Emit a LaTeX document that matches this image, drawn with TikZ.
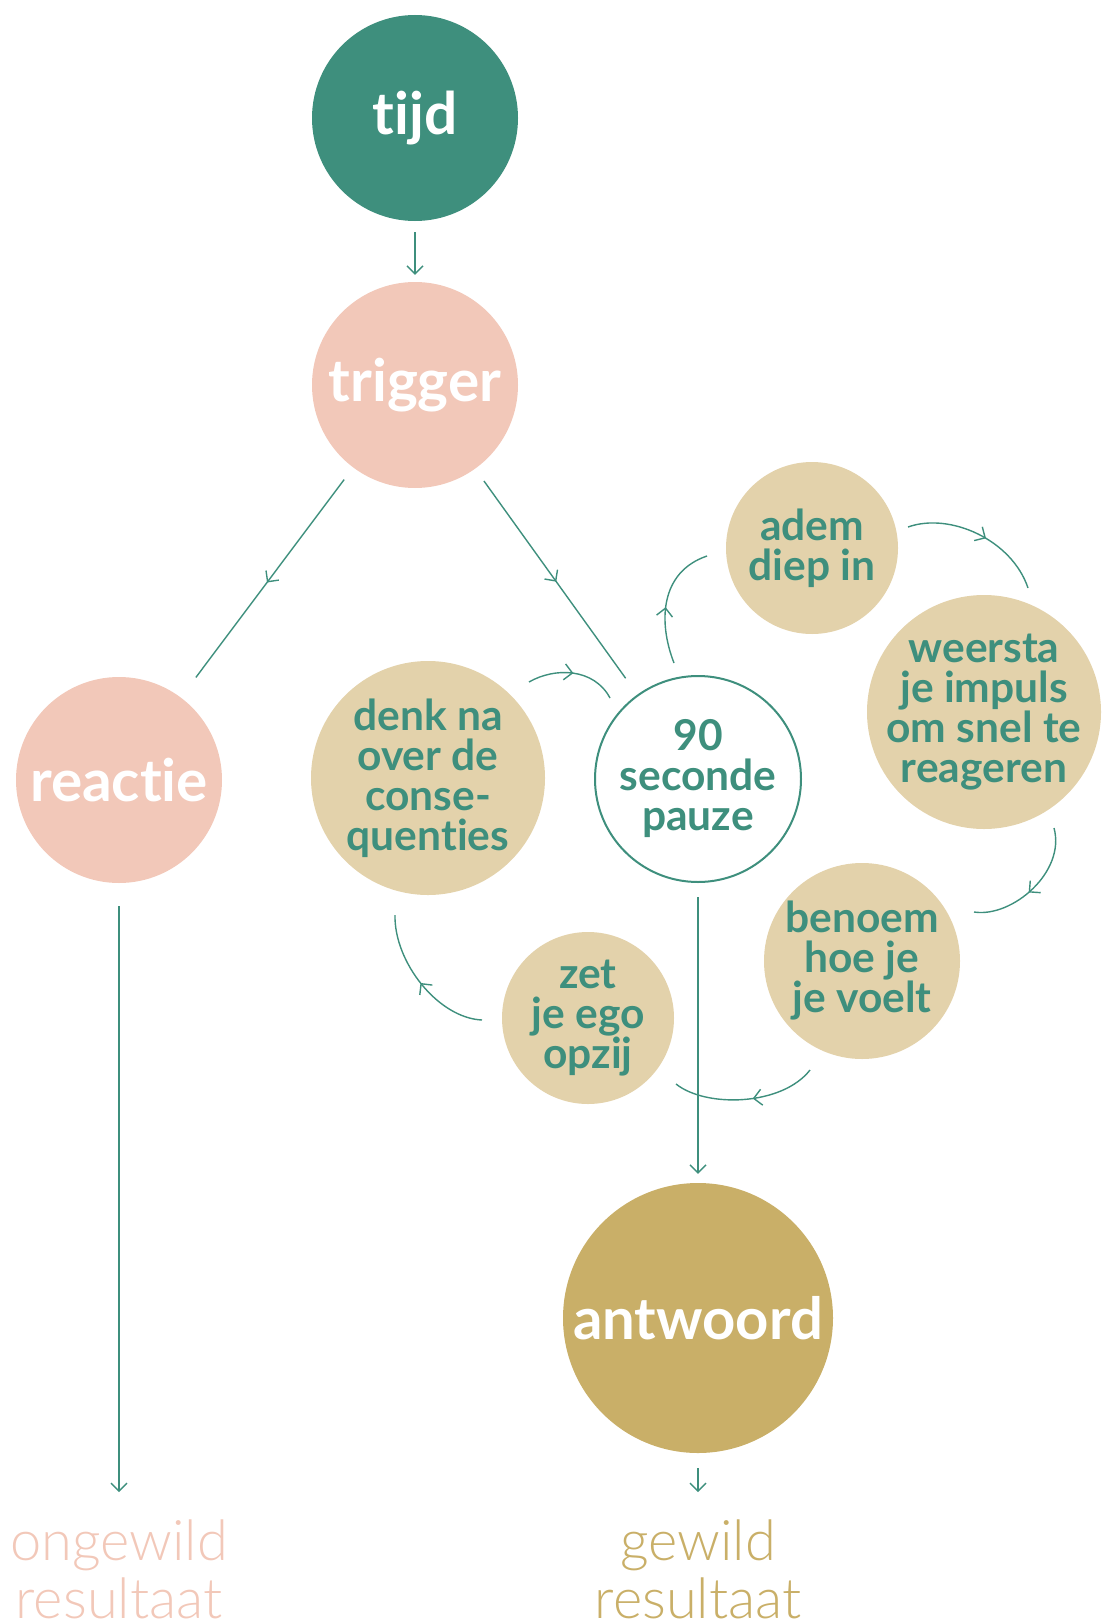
\documentclass[tikz,border=0pt]{standalone}
\usepackage{fontspec}
\setmainfont{Lato}[Ligatures=NoCommon]
\newfontfamily\lightf{Lato Light}[Ligatures=NoCommon]
\usetikzlibrary{arrows.meta,decorations.markings}
\definecolor{tealc}{HTML}{3E8F7D}
\definecolor{pinkc}{HTML}{F2C8B9}
\definecolor{beigec}{HTML}{E3D2AB}
\definecolor{goldc}{HTML}{C9AF68}
\begin{document}
\begin{tikzpicture}[x=1pt,y=-1pt,
  tipv/.tip={Straight Barb[length=8pt,width=16pt,line width=1.4pt]},
  conn/.style={draw=tealc,line width=1.4pt},
  endarrow/.style={conn,-tipv},
  midarrow/.style={conn,postaction={decorate},
    decoration={markings,mark=at position #1 with {\arrow{tipv}}}},
  midarrow/.default=0.5,
  big/.style={circle,inner sep=0pt,minimum size=206pt,text=white,
    font=\fontsize{58.5}{60}\selectfont\bfseries},
  smallcirc/.style={circle,inner sep=0pt,fill=beigec},
  smalltext/.style={inner sep=0pt,text=tealc,align=center,
    font=\fontsize{42.5}{40}\selectfont\bfseries},
  result/.style={align=center,font=\lightf\fontsize{56}{58}\selectfont}]
\useasboundingbox (0,0) rectangle (1107,1624);

\node[big,fill=tealc] (tijd) at (415,118) {tijd};
\node[big,fill=pinkc] (trigger) at (415,385) {trigger};
\node[big,fill=pinkc] (reactie) at (119,780) {reactie};
\node[circle,inner sep=0pt,minimum size=206pt,draw=tealc,line width=2pt,fill=white] (pauze) at (698,779) {};
\node[smalltext] (pauzetext) at (pauze) {90\\seconde\\pauze};
\node[smallcirc,minimum size=234pt] (denk) at (428,778) {};
\node[smalltext] (denktext) at (denk) {denk na\\over de\\conse-\\quenties};
\node[smallcirc,minimum size=172pt] (adem) at (812,548) {};
\node[smalltext] (ademtext) at (adem) {adem\\diep in};
\node[smallcirc,minimum size=234pt] (weersta) at (984,712) {};
\node[smalltext] (weerstatext) at (weersta) {weersta\\je impuls\\om snel te\\reageren};
\node[smallcirc,minimum size=196pt] (benoem) at (862,961) {};
\node[smalltext] (benoemtext) at (benoem) {benoem\\hoe je\\je voelt};
\node[smallcirc,minimum size=172pt] (zet) at (588,1018) {};
\node[smalltext] (zettext) at (zet) {zet\\je ego\\opzij};
\node[big,minimum size=270pt,fill=goldc,font=\fontsize{58}{60}\selectfont\bfseries] (antwoord) at (698,1318) {antwoord};

\node[result,text=pinkc,anchor=north] (ongewild) at (119,1516) {ongewild\\resultaat};
\node[result,text=goldc,anchor=north] (gewild) at (698,1516) {gewild\\resultaat};

% straight connectors
\draw[endarrow,shorten <=11pt,shorten >=7pt] (tijd) -- (trigger);
\draw[midarrow,shorten <=15pt,shorten >=25pt] (trigger) -- (reactie);
\draw[midarrow,shorten <=15pt,shorten >=20pt] (trigger) -- (pauze);
\draw[endarrow,shorten <=14pt,shorten >=9pt] (pauze) -- (antwoord);
\draw[endarrow,shorten <=15pt,shorten >=24pt] (antwoord) -- (gewild.north);
\draw[endarrow,shorten <=23pt,shorten >=24pt] (reactie) -- (ongewild.north);

% cycle arcs
\coordinate (a1s) at (674,663); \coordinate (a1e) at (707,556);
\coordinate (a2s) at (908,527); \coordinate (a2e) at (1028,588);
\coordinate (a3s) at (1054,828); \coordinate (a3e) at (974,912);
\coordinate (a4s) at (810,1070); \coordinate (a4e) at (676,1084);
\coordinate (a5s) at (482,1020); \coordinate (a5e) at (395,915);
\coordinate (a6s) at (529,682); \coordinate (a6e) at (610,698);

\draw[midarrow=0.45] (a1s) .. controls (658,622) and (660,572) .. (a1e);
\draw[midarrow=0.55] (a2s) .. controls (950,512) and (1012,540) .. (a2e);
\draw[midarrow=0.55] (a3s) .. controls (1066,872) and (1012,918) .. (a3e);
\draw[midarrow=0.45] (a4s) .. controls (782,1106) and (706,1108) .. (a4e);
\draw[midarrow=0.5] (a5s) .. controls (438,1018) and (394,962) .. (a5e);
\draw[midarrow=0.5] (a6s) .. controls (555,667) and (594,668) .. (a6e);
\end{tikzpicture}
\end{document}
